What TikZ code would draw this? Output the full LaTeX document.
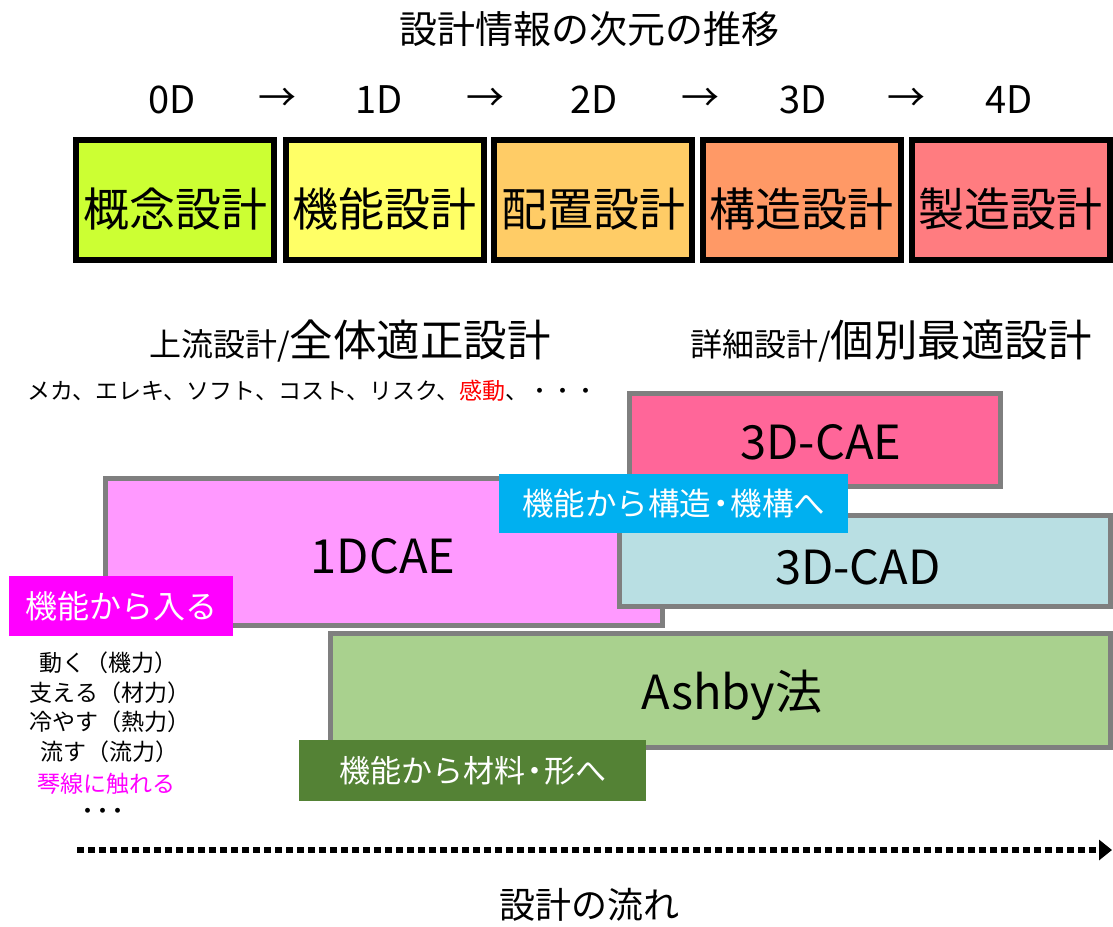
\documentclass[tikz,border=0pt]{standalone}
\usepackage{fontspec}
\setmainfont{Noto Sans CJK JP}
\usetikzlibrary{arrows.meta}
\definecolor{cLime}{HTML}{CCFF33}
\definecolor{cYel}{HTML}{FFFF66}
\definecolor{cOra}{HTML}{FFCC66}
\definecolor{cSal}{HTML}{FF9966}
\definecolor{cRed}{HTML}{FF7C80}
\definecolor{cGrayB}{HTML}{7F7F7F}
\definecolor{cCAE}{HTML}{FF6699}
\definecolor{cOne}{HTML}{FF99FF}
\definecolor{cCAD}{HTML}{B9DFE3}
\definecolor{cAsh}{HTML}{A9D18E}
\definecolor{cCyan}{HTML}{00B0F0}
\definecolor{cDGreen}{HTML}{548235}
\definecolor{cMag}{HTML}{FF00FF}
\newcommand{\fs}[1]{\fontsize{#1}{#1}\selectfont}
\tikzset{
  phase/.style={draw=black, line width=6pt, minimum width=198pt, minimum height=120pt, inner sep=0pt},
  phaselbl/.style={inner sep=0pt, font=\fs{46}},
  toolbox/.style={draw=cGrayB, line width=5pt, inner sep=0pt},
  toollbl/.style={inner sep=0pt, font=\fs{47}},
  tag/.style={inner sep=0pt, text=white, font=\fs{31.5}},
  txt/.style={inner sep=0pt},
  func/.style={inner sep=0pt, font=\fs{23}},
  dim/.style={inner sep=0pt, font=\fs{38}},
  flow/.style={line width=6pt, dash pattern=on 7pt off 4pt, -{Triangle[length=13pt,width=20pt]}}
}
\begin{document}
\begin{tikzpicture}[x=1pt,y=-1pt]
\useasboundingbox (0,0) rectangle (1113,926);
% title
\node[txt, font=\fs{38}] (title) at (589,29) {設計情報の次元の推移};
% dimensions
\node[dim] (d0) at (172,100) {0D};
\node[dim] (a1) at (277,100) {→};
\node[dim] (d1) at (379,100) {1D};
\node[dim] (a2) at (485,100) {→};
\node[dim] (d2) at (594,100) {2D};
\node[dim] (a3) at (700,100) {→};
\node[dim] (d3) at (803,100) {3D};
\node[dim] (a4) at (906,100) {→};
\node[dim] (d4) at (1009,100) {4D};
% phases
\node[phase, fill=cLime] (p0) at (175,200) {};
\node[phase, fill=cYel] (p1) at (384.5,200) {};
\node[phase, fill=cOra] (p2) at (593,200) {};
\node[phase, fill=cSal] (p3) at (801.5,200) {};
\node[phase, fill=cRed] (p4) at (1010.5,200) {};
\node[phaselbl] (p0t) at ([yshift=-9pt]p0.center) {概念設計};
\node[phaselbl] (p1t) at ([yshift=-9pt]p1.center) {機能設計};
\node[phaselbl] (p2t) at ([yshift=-9pt]p2.center) {配置設計};
\node[phaselbl] (p3t) at ([yshift=-9pt]p3.center) {構造設計};
\node[phaselbl] (p4t) at ([yshift=-9pt]p4.center) {製造設計};
% headings
\node[txt, anchor=base west] (up) at (149,356) {{\fs{32}上流設計/}{\fs{43.5}全体適正設計}};
\node[txt, anchor=base west] (down) at (690,356) {{\fs{32}詳細設計/}{\fs{43.5}個別最適設計}};
\node[txt, anchor=base west, font=\fs{23}] (aspects) at (27,399) {メカ、エレキ、ソフト、コスト、リスク、\textcolor{red}{感動}、・・・};
% tool boxes
\node[toolbox, fill=cCAE, minimum width=371pt, minimum height=93pt] (cae) at (815,440) {};
\node[toollbl] (caet) at (821,442) {3D-CAE};
\node[toolbox, fill=cOne, minimum width=557pt, minimum height=147pt] (one) at (384,552) {};
\node[toollbl] (onet) at (383,556) {1DCAE};
\node[toolbox, fill=cCAD, minimum width=491pt, minimum height=91pt] (cad) at (865,561) {};
\node[toollbl] (cadt) at (858,567) {3D-CAD};
\node[toolbox, fill=cAsh, minimum width=780pt, minimum height=114pt] (ashby) at (720.5,690.5) {};
\node[toollbl] (ashbyt) at (732,695) {Ashby法};
% tags
\node[tag, fill=cCyan, minimum width=349pt, minimum height=59pt] (t1) at (673.5,503.5) {機能から構造\kern-6pt・\kern-6pt機構へ};
\node[tag, fill=cDGreen, minimum width=347pt, minimum height=61pt, font=\fs{31}] (t2) at (472.5,770.5) {機能から材料\kern-6pt・\kern-6pt形へ};
\node[tag, fill=cMag, minimum width=224pt, minimum height=60pt, font=\fs{32}] (t3) at (121,606) {機能から入る};
% function list
\node[func] (f1) at (108,663) {動く（機力）};
\node[func] (f2) at (110,693) {支える（材力）};
\node[func] (f3) at (110,722) {冷やす（熱力）};
\node[func] (f4) at (109,752) {流す（流力）};
\node[func, text=cMag] (f5) at (106,784) {琴線に触れる};
\node[func] (f6) at (103,814) {・\kern-8pt・\kern-8pt・};
% flow arrow
\coordinate (fa) at (77,850);
\coordinate (fb) at (1112,850);
\draw[flow] (fa) -- (fb);
\node[txt, font=\fs{36}] (flowlbl) at (589,905) {設計の流れ};
\end{tikzpicture}
\end{document}
